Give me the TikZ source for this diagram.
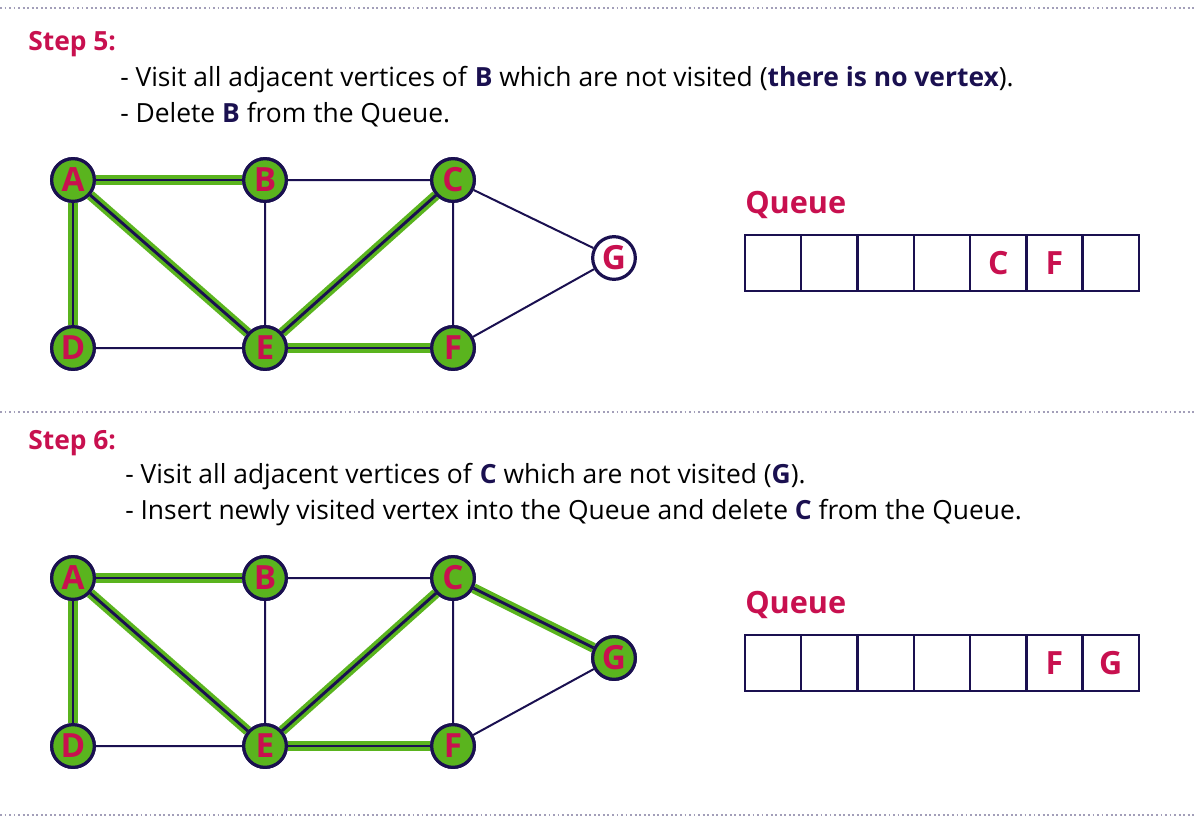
\documentclass[tikz,border=0pt]{standalone}
\usepackage{fontspec}
\setmainfont{Open Sans}
\definecolor{crim}{HTML}{C8104F}
\definecolor{navy}{HTML}{1A1050}
\definecolor{grn}{HTML}{5AB41E}
\begin{document}
\begin{tikzpicture}[x=0.75pt,y=-0.75pt,
  vis/.style={circle,draw=navy,line width=2.4pt,fill=grn,minimum size=32pt,inner sep=0pt,font=\fontsize{25}{25}\selectfont\bfseries,text=crim},
  unv/.style={vis,fill=white},
  edge/.style={navy,line width=1.5pt},
  hl/.style={preaction={draw=grn,line width=7.5pt},draw=navy,line width=2.2pt},
  sep/.style={dotted,line width=1.4pt,color=navy!40},
  txt/.style={anchor=west,font=\fontsize{19.8}{19.8}\selectfont,text=black,inner sep=0pt},
  steplab/.style={anchor=west,font=\fontsize{19.8}{19.8}\selectfont\bfseries,text=crim,inner sep=0pt},
  qlab/.style={anchor=west,font=\fontsize{23}{23}\selectfont\bfseries,text=crim,inner sep=0pt},
  cell/.style={draw=navy,line width=1.8pt,minimum width=42.2pt,minimum height=42pt,inner sep=0pt,font=\fontsize{24}{24}\selectfont\bfseries,text=crim}]
\useasboundingbox (0,0) rectangle (1195,829);
\draw[sep] (0,8) -- (1195,8);
\draw[sep] (0,412) -- (1195,412);
\draw[sep] (0,815) -- (1195,815);
\newcommand{\B}[1]{\textbf{\color{navy}#1}}
% step 5
\node[steplab] (s5) at (28,44) {Step 5:};
\node[txt] (t51) at (120,80) {- Visit all adjacent vertices of \B{B} which are not visited (\B{there is no vertex}).};
\node[txt] (t52) at (120,115) {- Delete \B{B} from the Queue.};
\node[vis] (A) at (73,180) {A};
\node[vis] (B) at (265,180) {B};
\node[vis] (C) at (453,180) {C};
\node[unv] (G) at (614,258) {G};
\node[vis] (D) at (73,348) {D};
\node[vis] (E) at (265,348) {E};
\node[vis] (F) at (453,348) {F};
\draw[edge] (B)--(C) (B)--(E) (D)--(E) (C)--(F) (C)--(G) (F)--(G);
\draw[hl] (A)--(B); \draw[hl] (A)--(D); \draw[hl] (A)--(E); \draw[hl] (E)--(C); \draw[hl] (E)--(F);
\node[vis] at (A) {A}; \node[vis] at (B) {B}; \node[vis] at (C) {C};
\node[vis] at (D) {D}; \node[vis] at (E) {E}; \node[vis] at (F) {F};
\node[qlab] (q5) at (745,205) {Queue};
\foreach \i/\l in {0/,1/,2/,3/,4/C,5/F,6/}{\node[cell] (q5\i) at ({773+56.3*\i},263) {\l};}
% step 6
\node[steplab] (s6) at (28,443) {Step 6:};
\node[txt] (t61) at (125,477) {- Visit all adjacent vertices of \B{C} which are not visited (\B{G}).};
\node[txt] (t62) at (125,513) {- Insert newly visited vertex into the Queue and delete \B{C} from the Queue.};
\node[vis] (A2) at (73,578) {A};
\node[vis] (B2) at (265,578) {B};
\node[vis] (C2) at (453,578) {C};
\node[vis] (G2) at (614,658) {G};
\node[vis] (D2) at (73,746) {D};
\node[vis] (E2) at (265,746) {E};
\node[vis] (F2) at (453,746) {F};
\draw[edge] (B2)--(C2) (B2)--(E2) (D2)--(E2) (C2)--(F2) (F2)--(G2);
\draw[hl] (A2)--(B2); \draw[hl] (A2)--(D2); \draw[hl] (A2)--(E2); \draw[hl] (E2)--(C2); \draw[hl] (E2)--(F2); \draw[hl] (C2)--(G2);
\node[vis] at (A2) {A}; \node[vis] at (B2) {B}; \node[vis] at (C2) {C}; \node[vis] at (G2) {G};
\node[vis] at (D2) {D}; \node[vis] at (E2) {E}; \node[vis] at (F2) {F};
\node[qlab] (q6) at (745,605) {Queue};
\foreach \i/\l in {0/,1/,2/,3/,4/,5/F,6/G}{\node[cell] (q6\i) at ({773+56.3*\i},663) {\l};}
\end{tikzpicture}
\end{document}
